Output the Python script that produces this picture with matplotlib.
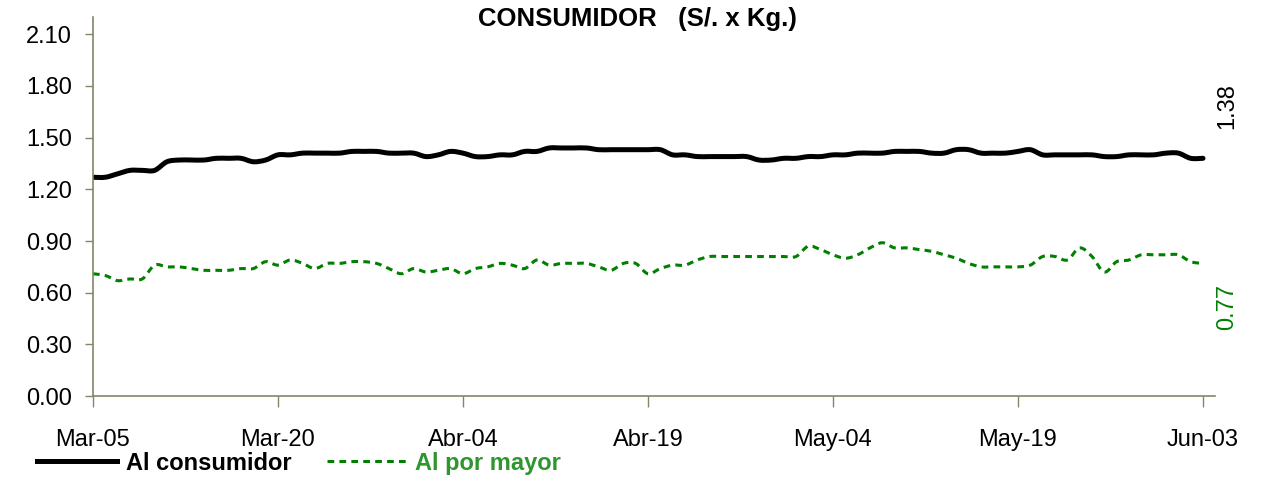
import matplotlib
matplotlib.use("Agg")
import matplotlib.pyplot as plt
from matplotlib.lines import Line2D
from matplotlib.path import Path
from matplotlib.patches import PathPatch
import numpy as np

plt.rcParams['font.family'] = ['Liberation Sans', 'DejaVu Sans']

# dias desde el 05 de marzo (0..90)
dias = np.arange(91)

consumidor = [
    1.27, 1.27, 1.29, 1.31, 1.31, 1.31, 1.36, 1.37, 1.37, 1.37,
    1.38, 1.38, 1.38, 1.36, 1.37, 1.40, 1.40, 1.41, 1.41, 1.41,
    1.41, 1.42, 1.42, 1.42, 1.41, 1.41, 1.41, 1.39, 1.40, 1.42,
    1.41, 1.39, 1.39, 1.40, 1.40, 1.42, 1.42, 1.44, 1.44, 1.44,
    1.44, 1.43, 1.43, 1.43, 1.43, 1.43, 1.43, 1.40, 1.40, 1.39,
    1.39, 1.39, 1.39, 1.39, 1.37, 1.37, 1.38, 1.38, 1.39, 1.39,
    1.40, 1.40, 1.41, 1.41, 1.41, 1.42, 1.42, 1.42, 1.41, 1.41,
    1.43, 1.43, 1.41, 1.41, 1.41, 1.42, 1.43, 1.40, 1.40, 1.40,
    1.40, 1.40, 1.39, 1.39, 1.40, 1.40, 1.40, 1.41, 1.41, 1.38,
    1.38,
]

por_mayor = [
    0.71, 0.70, 0.67, 0.68, 0.68, 0.76, 0.75, 0.75, 0.74, 0.73,
    0.73, 0.73, 0.74, 0.74, 0.78, 0.76, 0.79, 0.77, 0.74, 0.77,
    0.77, 0.78, 0.78, 0.77, 0.74, 0.71, 0.74, 0.72, 0.73, 0.74,
    0.71, 0.74, 0.75, 0.77, 0.76, 0.74, 0.79, 0.76, 0.77, 0.77,
    0.77, 0.75, 0.73, 0.77, 0.77, 0.71, 0.74, 0.76, 0.76, 0.79,
    0.81, 0.81, 0.81, 0.81, 0.81, 0.81, 0.81, 0.81, 0.87, 0.85,
    0.82, 0.80, 0.82, 0.86, 0.89, 0.86, 0.86, 0.85, 0.84, 0.82,
    0.80, 0.77, 0.75, 0.75, 0.75, 0.75, 0.76, 0.81, 0.81, 0.79,
    0.86, 0.81, 0.72, 0.78, 0.79, 0.82, 0.82, 0.82, 0.82, 0.78,
    0.77,
]

tick_dias = [0, 15, 30, 45, 60, 75, 90]
tick_labels = ["Mar-05", "Mar-20", "Abr-04", "Abr-19", "May-04", "May-19", "Jun-03"]
y_ticks = [0.0, 0.3, 0.6, 0.9, 1.2, 1.5, 1.8, 2.1]

verde = '#008000'
eje = '#85856a'


def curva_suave(x, y):
    # linea suavizada tipo Excel (Catmull-Rom pasada a Bezier cubica)
    p = np.column_stack([x, y]).astype(float)
    ext = np.vstack([p[0], p, p[-1]])
    verts = [p[0]]
    codes = [Path.MOVETO]
    for i in range(1, len(ext) - 2):
        p0, p1, p2, p3 = ext[i - 1], ext[i], ext[i + 1], ext[i + 2]
        verts += [p1 + (p2 - p0) / 6, p2 - (p3 - p1) / 6, p2]
        codes += [Path.CURVE4] * 3
    return Path(verts, codes)


fig = plt.figure(figsize=(12.82, 4.86), dpi=100)
ax = fig.add_axes([0.0725, 0.185, 0.8755, 0.78])

estilo_cons = dict(color='black', linewidth=3.6)
estilo_may = dict(color=verde, linewidth=2.2, linestyle=(0, (2.2, 1.7)))

ax.add_patch(PathPatch(curva_suave(dias, consumidor), fill=False,
                       capstyle='round', joinstyle='round', edgecolor='black',
                       linewidth=3.6))
ax.add_patch(PathPatch(curva_suave(dias, por_mayor), fill=False, edgecolor=verde,
                       linewidth=2.2, linestyle=(0, (2.2, 1.7))))

ax.set_xlim(0, 91)
ax.set_ylim(0, 2.2)
ax.set_yticks(y_ticks)
ax.set_yticklabels([f"{v:.2f}" for v in y_ticks], fontsize=17)
ax.set_xticks(tick_dias)
ax.set_xticklabels(tick_labels, fontsize=17)

for s in ['top', 'right']:
    ax.spines[s].set_visible(False)
for s in ['left', 'bottom']:
    ax.spines[s].set_color(eje)
    ax.spines[s].set_linewidth(1.2)
ax.tick_params(axis='y', length=6, width=1, color=eje, pad=9)
ax.tick_params(axis='x', length=8, width=1, color=eje, pad=16)

fig.text(0.497, 1 - 19 / 486, "CONSUMIDOR   (S/. x Kg.)", fontsize=18.5,
         fontweight='bold', ha='center', va='center')

# ultimo valor de cada serie
fig.text(1227 / 1282, 1 - 106 / 486, f"{consumidor[-1]:.2f}",
         rotation=90, ha='center', va='center', fontsize=17, color='black')
fig.text(1227 / 1282, 1 - 307 / 486, f"{por_mayor[-1]:.2f}",
         rotation=90, ha='center', va='center', fontsize=17, color=verde)

handles = [Line2D([], [], label='Al consumidor', **estilo_cons),
           Line2D([], [], label='Al por mayor', **estilo_may)]
leg = fig.legend(handles=handles, loc='center left', bbox_to_anchor=(0.029, 0.047),
                 ncol=2, frameon=False, handlelength=3.4, handletextpad=0.35,
                 columnspacing=1.5, prop={'size': 17, 'weight': 'bold'},
                 borderpad=0, borderaxespad=0)
leg.get_texts()[0].set_color('black')
leg.get_texts()[1].set_color('#2e962e')

fig.savefig("out.png", dpi=100)
